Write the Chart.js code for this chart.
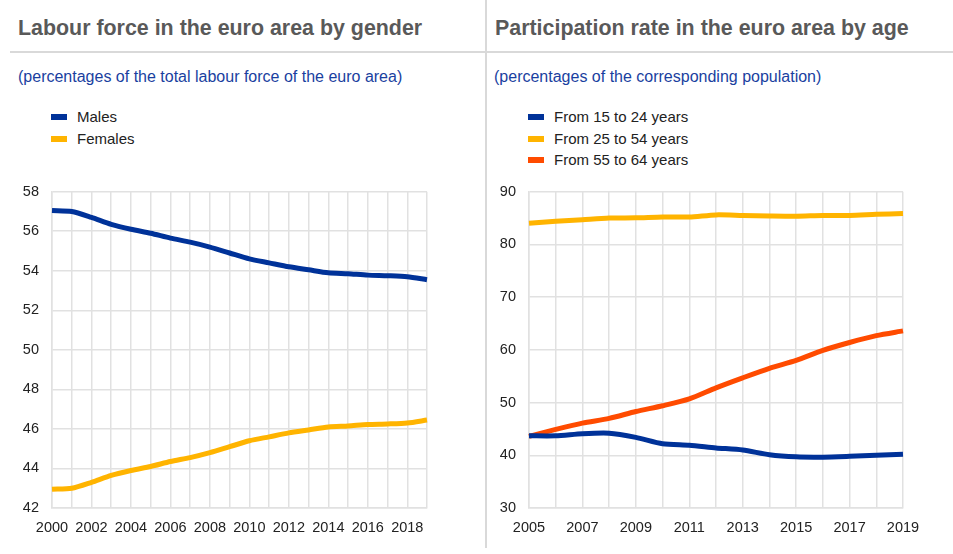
<!DOCTYPE html>
<html>
<head>
<meta charset="utf-8">
<script src="https://cdn.jsdelivr.net/npm/chart.js@4"></script>
<style>
  body { margin: 0; width: 953px; height: 554px; background: #fff; font-family: "Liberation Sans", Arial, sans-serif; position: relative; overflow: hidden; }
  .title { position: absolute; top: 16px; font-size: 21.4px; font-weight: bold; color: #595959; white-space: nowrap; }
  .sub { position: absolute; top: 68px; font-size: 16px; color: #1a3fa0; white-space: nowrap; }
  .hline { position: absolute; top: 51px; height: 2px; background: #d9d9d9; }
  .vline { position: absolute; left: 485px; top: 0; width: 2px; height: 548px; background: #d9d9d9; }
  .legend { position: absolute; top: 107px; font-size: 15px; color: #222; }
  .legend div { height: 21.5px; line-height: 19px; white-space: nowrap; }
  .legend span { display: inline-block; width: 16px; height: 6px; margin-right: 10px; vertical-align: middle; position: relative; top: -1px; }
  .box { position: absolute; top: 170px; height: 371px; }
</style>
</head>
<body>
<div class="title" style="left:18px">Labour force in the euro area by gender</div>
<div class="title" style="left:495px">Participation rate in the euro area by age</div>
<div class="hline" style="left:10px;width:470px"></div>
<div class="hline" style="left:480px;width:473px"></div>
<div class="vline"></div>
<div class="sub" style="left:18px">(percentages of the total labour force of the euro area)</div>
<div class="sub" style="left:494px">(percentages of the corresponding population)</div>
<div class="legend" id="legL" style="left:51px"></div>
<div class="legend" id="legR" style="left:528px"></div>
<div class="box" style="left:0;width:470px"><canvas id="left"></canvas></div>
<div class="box" style="left:488px;width:460px"><canvas id="right"></canvas></div>

<script>
// data: labour force by gender (2000-2019)
const genderYears = ['2000','2001','2002','2003','2004','2005','2006','2007','2008','2009',
                     '2010','2011','2012','2013','2014','2015','2016','2017','2018','2019'];
const males = [57.05, 57.0, 56.7, 56.35, 56.1, 55.9, 55.65, 55.45, 55.2, 54.9,
               54.6, 54.4, 54.2, 54.05, 53.9, 53.85, 53.78, 53.75, 53.7, 53.55];
const females = [42.95, 43.0, 43.3, 43.65, 43.9, 44.1, 44.35, 44.55, 44.8, 45.1,
                 45.4, 45.6, 45.8, 45.95, 46.1, 46.15, 46.22, 46.25, 46.3, 46.45];

// data: participation rate by age (2005-2019)
const ageYears = ['2005','2006','2007','2008','2009','2010','2011','2012','2013','2014',
                  '2015','2016','2017','2018','2019'];
const age15to24 = [43.7, 43.7, 44.1, 44.2, 43.4, 42.2, 41.9, 41.4, 41.0, 40.1,
                   39.7, 39.65, 39.8, 40.0, 40.2];
const age25to54 = [84.0, 84.4, 84.7, 85.0, 85.05, 85.2, 85.2, 85.6, 85.5, 85.4,
                   85.35, 85.5, 85.5, 85.7, 85.85];
const age55to64 = [43.6, 44.9, 46.1, 47.0, 48.3, 49.4, 50.7, 52.8, 54.7, 56.5,
                   58.0, 59.9, 61.4, 62.7, 63.6];

const BLUE = '#003299', YELLOW = '#ffb400', ORANGE = '#ff4b00';
const GRID = '#e1e1e1';

function buildLegend(id, sets) {
  const el = document.getElementById(id);
  sets.forEach(s => {
    const row = document.createElement('div');
    row.innerHTML = '<span style="background:' + s.borderColor + '"></span>' + s.label;
    el.appendChild(row);
  });
}

function line(label, data, color) {
  return { label, data, borderColor: color, backgroundColor: color, borderWidth: 5,
           pointRadius: 0, tension: 0.25, fill: false };
}

function makeChart(id, labels, sets, min, max, step, yWidth, padRight) {
  new Chart(document.getElementById(id), {
    type: 'line',
    data: { labels, datasets: sets },
    options: {
      responsive: true,
      maintainAspectRatio: false,
      animation: false,
      layout: { padding: { top: 2, right: padRight, bottom: 0, left: 0 } },
      plugins: { legend: { display: false }, tooltip: { enabled: false } },
      scales: {
        x: {
          grid: { color: GRID, lineWidth: 1.5, drawTicks: false },
          border: { color: GRID, width: 1.5 },
          ticks: {
            autoSkip: false, maxRotation: 0, padding: 11, color: '#222',
            font: { size: 14.5, family: '"Liberation Sans", Arial' },
            callback: (v, i) => i % 2 === 0 ? labels[i] : ''
          },
          afterFit: s => { s.height = 33; }
        },
        y: {
          min, max,
          grid: { color: GRID, lineWidth: 1.5, drawTicks: false },
          border: { color: GRID, width: 1.5 },
          ticks: { stepSize: step, padding: 13, color: '#222',
                   font: { size: 14.5, family: '"Liberation Sans", Arial' } },
          afterFit: s => { s.width = yWidth; }
        }
      }
    }
  });
}

const leftSets = [line('Males', males, BLUE), line('Females', females, YELLOW)];
const rightSets = [line('From 15 to 24 years', age15to24, BLUE),
                   line('From 25 to 54 years', age25to54, YELLOW),
                   line('From 55 to 64 years', age55to64, ORANGE)];

buildLegend('legL', leftSets);
buildLegend('legR', rightSets);
makeChart('left', genderYears, leftSets, 42, 58, 2, 52, 43);
makeChart('right', ageYears, rightSets, 30, 90, 10, 41, 45);
</script>
</body>
</html>
